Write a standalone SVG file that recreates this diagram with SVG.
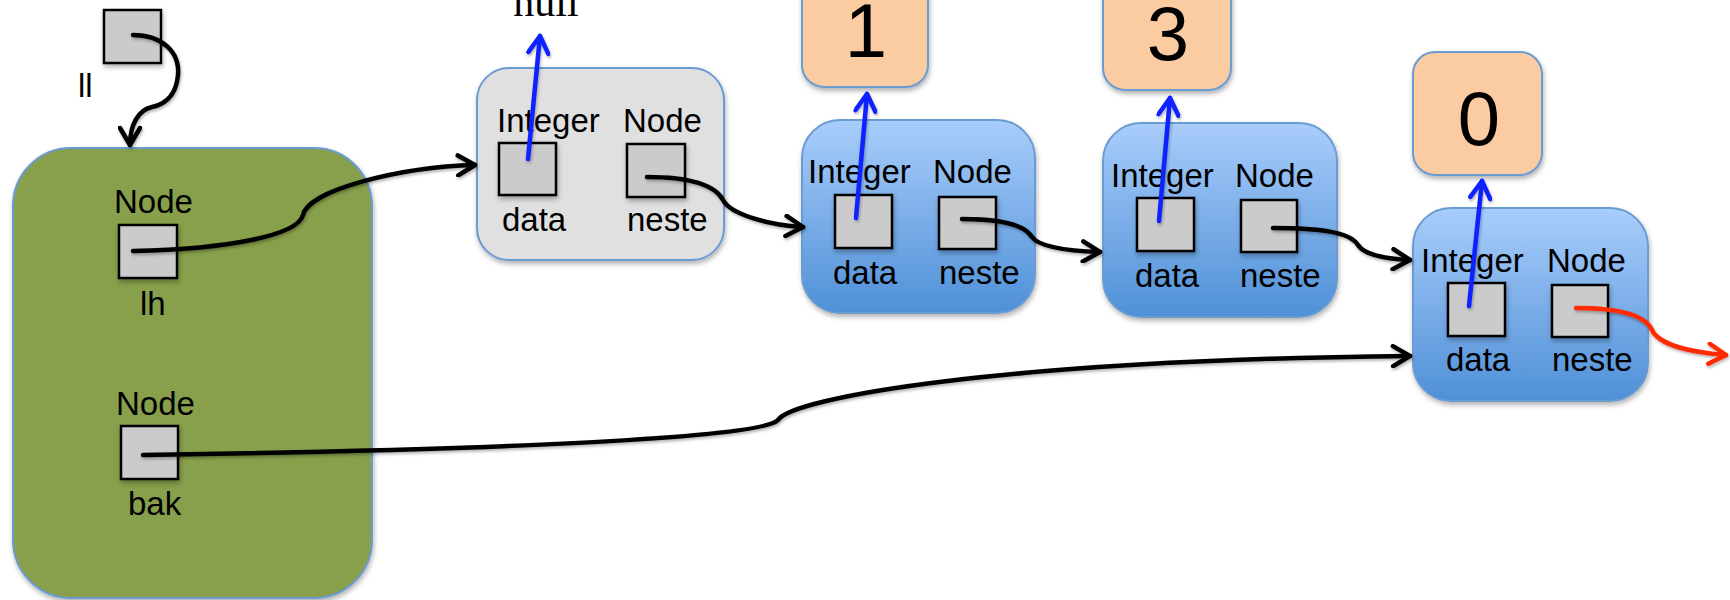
<svg xmlns="http://www.w3.org/2000/svg" width="1730" height="600" viewBox="0 0 1730 600">
<style>
.t{font-family:"Liberation Sans",Arial,sans-serif;font-size:33px;fill:#000}
.num{font-family:"Liberation Sans",Arial,sans-serif;font-size:76px;fill:#000;text-anchor:middle}
.box{fill:#cbcbcb;stroke:#000;stroke-width:2.5;filter:url(#sh)}
.blue{fill:url(#bg);stroke:#6a9bd1;stroke-width:2;filter:url(#sh)}
.org{fill:#fbcba1;stroke:#6a9bd1;stroke-width:2;filter:url(#sh)}
.c{fill:none;stroke-width:4.5;stroke-linecap:round}
.k{stroke:#000;marker-end:url(#ak)}
.b{stroke:#0a22ff;marker-end:url(#ab)}
.r{stroke:#ff2a00;marker-end:url(#ar)}
</style>
<defs>
<linearGradient id="bg" x1="0" y1="0" x2="0" y2="1">
<stop offset="0" stop-color="#a9cdfb"/>
<stop offset="1" stop-color="#4f90d7"/>
</linearGradient>
<filter id="sh" x="-10%" y="-10%" width="130%" height="130%">
<feDropShadow dx="1" dy="3" stdDeviation="2.5" flood-color="#000" flood-opacity="0.3"/>
</filter>
<filter id="sh2" filterUnits="userSpaceOnUse" x="0" y="0" width="1730" height="600">
<feDropShadow dx="1" dy="2" stdDeviation="1.5" flood-color="#000" flood-opacity="0.3"/>
</filter>
<marker id="ak" viewBox="0 0 24 24" refX="21" refY="12" markerWidth="24" markerHeight="24" markerUnits="userSpaceOnUse" orient="auto">
<path d="M4,2 L21,12 L4,22" fill="none" stroke="#000" stroke-width="4.5" stroke-linecap="round" stroke-linejoin="round"/>
</marker>
<marker id="ab" viewBox="0 0 24 24" refX="21" refY="12" markerWidth="24" markerHeight="24" markerUnits="userSpaceOnUse" orient="auto">
<path d="M4,2 L21,12 L4,22" fill="none" stroke="#0a22ff" stroke-width="4.5" stroke-linecap="round" stroke-linejoin="round"/>
</marker>
<marker id="ar" viewBox="0 0 24 24" refX="21" refY="12" markerWidth="24" markerHeight="24" markerUnits="userSpaceOnUse" orient="auto">
<path d="M4,2 L21,12 L4,22" fill="none" stroke="#ff2a00" stroke-width="4.5" stroke-linecap="round" stroke-linejoin="round"/>
</marker>
</defs>
<rect width="1730" height="600" fill="#fff"/>

<g id="ll">
<rect class="box" x="104" y="10" width="57" height="53"/>
<text class="t" x="78" y="97">ll</text>
</g>

<g id="listhead">
<rect x="13" y="148" width="359" height="450" rx="58" fill="#88a04b" stroke="#6a9bd1" stroke-width="2" filter="url(#sh)"/>
<text class="t" x="114" y="213">Node</text>
<rect class="box" x="119" y="225" width="58" height="53"/>
<text class="t" x="140" y="315">lh</text>
<text class="t" x="116" y="415">Node</text>
<rect class="box" x="121" y="426" width="57" height="53"/>
<text class="t" x="128" y="515">bak</text>
</g>

<g id="null">
<text x="546" y="16" font-family="'Liberation Serif','Times New Roman',serif" font-size="42" text-anchor="middle">null</text>
</g>

<g id="node0">
<rect x="477" y="68" width="247" height="192" rx="32" fill="#e0e0e0" stroke="#6a9bd1" stroke-width="2" filter="url(#sh)"/>
<text class="t" x="497" y="132">Integer</text>
<text class="t" x="623" y="132">Node</text>
<rect class="box" x="499" y="143" width="57" height="52"/>
<rect class="box" x="627" y="144" width="58" height="53"/>
<text class="t" x="502" y="231">data</text>
<text class="t" x="627" y="231">neste</text>
</g>

<g id="val1">
<rect class="org" x="802" y="-35" width="126" height="122" rx="22"/>
<text class="num" x="866" y="57">1</text>
</g>
<g id="node1">
<rect class="blue" x="802" y="120" width="233" height="193" rx="38"/>
<text class="t" x="808" y="183">Integer</text>
<text class="t" x="933" y="183">Node</text>
<rect class="box" x="835" y="195" width="57" height="53"/>
<rect class="box" x="939" y="197" width="57" height="52"/>
<text class="t" x="833" y="284">data</text>
<text class="t" x="939" y="284">neste</text>
</g>

<g id="val3">
<rect class="org" x="1103" y="-32" width="128" height="122" rx="22"/>
<text class="num" x="1168" y="60">3</text>
</g>
<g id="node2">
<rect class="blue" x="1103" y="123" width="234" height="194" rx="38"/>
<text class="t" x="1111" y="187">Integer</text>
<text class="t" x="1235" y="187">Node</text>
<rect class="box" x="1137" y="198" width="57" height="53"/>
<rect class="box" x="1241" y="200" width="56" height="52"/>
<text class="t" x="1135" y="287">data</text>
<text class="t" x="1240" y="287">neste</text>
</g>

<g id="val0">
<rect class="org" x="1413" y="52" width="129" height="123" rx="22"/>
<text class="num" x="1479" y="145">0</text>
</g>
<g id="node3">
<rect class="blue" x="1413" y="208" width="235" height="193" rx="38"/>
<text class="t" x="1421" y="272">Integer</text>
<text class="t" x="1547" y="272">Node</text>
<rect class="box" x="1448" y="283" width="57" height="53"/>
<rect class="box" x="1552" y="285" width="56" height="52"/>
<text class="t" x="1446" y="371">data</text>
<text class="t" x="1552" y="371">neste</text>
</g>

<g id="connectors" filter="url(#sh2)">
<path class="c k" d="M133,35 C162,35 180,52 178,75 C176,98 162,105 152,107 C138,110 130,125 130,145"/>
<path class="c k" d="M133,251 C230,249 298,235 303,215 C308,190 400,167 475,165"/>
<path class="c k" d="M143,455 C500,450 762,438 778,420 C792,398 1000,360 1410,356"/>
<path class="c k" d="M647,177 C690,177 715,185 723,200 C731,215 770,225 803,227"/>
<path class="c k" d="M962,219 C1000,219 1025,225 1032,237 C1040,248 1070,251 1100,252"/>
<path class="c k" d="M1273,228 C1320,228 1350,232 1358,245 C1365,256 1390,259 1410,260"/>
<path class="c r" d="M1576,308 C1620,308 1645,315 1652,330 C1660,347 1700,353 1726,355"/>
<path class="c b" d="M528,159 L540,36"/>
<path class="c b" d="M856,218 L867,94"/>
<path class="c b" d="M1159,221 L1170,98"/>
<path class="c b" d="M1469,306 L1482,181"/>
</g>
</svg>
